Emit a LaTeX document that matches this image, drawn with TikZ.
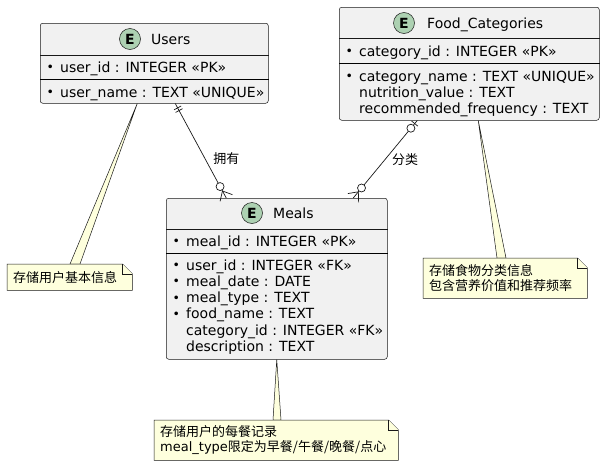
\documentclass[tikz,border=0pt]{standalone}
\usepackage{fontspec}
\setmainfont{DejaVu Sans}
\newfontfamily\cjk{Noto Sans CJK SC}
\usepackage{tikz}
\usetikzlibrary{calc,backgrounds}
\definecolor{entityfill}{HTML}{F1F1F1}
\definecolor{entityline}{HTML}{181818}
\definecolor{badgefill}{HTML}{ADD1B2}
\definecolor{notefill}{HTML}{FEFFDD}

\newcommand{\keydot}{\makebox[14pt][l]{\hspace*{0.5pt}\raisebox{0.5pt}{\fontsize{12.5}{12.5}\selectfont •}}}
\newcommand{\nokey}{\hspace*{14pt}}

\tikzset{
	entity/.style={draw=entityline, fill=entityfill, line width=0.5pt, rounded corners=2.5pt, inner sep=0, anchor=north west},
	sepline/.style={entityline, line width=0.5pt},
	keyline/.style={black, line width=1pt},
	badge/.style={circle, draw=entityline, line width=0.5pt, fill=badgefill, minimum size=21pt, inner sep=0, font=\fontsize{14}{14}\selectfont\bfseries},
	title/.style={anchor=base west, inner sep=0, font=\fontsize{14}{16}\selectfont},
	attr/.style={anchor=base west, inner sep=0, font=\fontsize{14}{16.3}\selectfont},
	rel/.style={draw=entityline, line width=0.7pt},
	rellabel/.style={inner sep=0, font=\cjk\fontsize{13}{15}\selectfont},
	notebox/.style={anchor=north west, inner xsep=6pt, inner ysep=0, align=left, font=\cjk\fontsize{13}{15.5}\selectfont},
	noteline/.style={draw=entityline, fill=notefill, line width=0.5pt},
}

\begin{document}
\begin{tikzpicture}[x=1pt, y=-1pt]
	\useasboundingbox (0,0) rectangle (605,466);

	% ENTITY: USERS
	\node[entity, minimum width=228pt, minimum height=80pt] (users) at (40,23) {};
	\draw[sepline] (users.west |- 0,55) -- (users.east |- 0,55);
	\draw[keyline] (users.west |- 0,79) -- (users.east |- 0,79);
	\node[badge] (users-badge) at (130,39) {E};
	\node[title] (users-title) at (151,44) {Users};
	\node[attr] (users-pk) at (46,72) {\keydot user\_id : INTEGER «PK»};
	\node[attr] (users-name) at (46,97) {\keydot user\_name : TEXT «UNIQUE»};

	% ENTITY: FOOD_CATEGORIES
	\node[entity, minimum width=260pt, minimum height=113pt] (food) at (339,7) {};
	\draw[sepline] (food.west |- 0,38) -- (food.east |- 0,38);
	\draw[keyline] (food.west |- 0,63) -- (food.east |- 0,63);
	\node[badge] (food-badge) at (404,23) {E};
	\node[title] (food-title) at (427,28) {Food\_Categories};
	\node[attr] (food-pk) at (345,56) {\keydot category\_id : INTEGER «PK»};
	\foreach \row [count=\i] in {{\keydot category\_name : TEXT «UNIQUE»}, {\nokey nutrition\_value : TEXT}, {\nokey recommended\_frequency : TEXT}}
		\node[attr] (food-row\i) at (345, 64.7+16.3*\i) {\row};

	% ENTITY: MEALS
	\node[entity, minimum width=221pt, minimum height=161pt] (meals) at (166,198) {};
	\draw[sepline] (meals.west |- 0,229) -- (meals.east |- 0,229);
	\draw[keyline] (meals.west |- 0,253) -- (meals.east |- 0,253);
	\node[badge] (meals-badge) at (252,213) {E};
	\node[title] (meals-title) at (273,218) {Meals};
	\node[attr] (meals-pk) at (172,246) {\keydot meal\_id : INTEGER «PK»};
	\foreach \row [count=\i] in {{\keydot user\_id : INTEGER «FK»}, {\keydot meal\_date : DATE}, {\keydot meal\_type : TEXT}, {\keydot food\_name : TEXT}, {\nokey category\_id : INTEGER «FK»}, {\nokey description : TEXT}}
		\node[attr] (meals-row\i) at (172, 253.7+16.3*\i) {\row};

	% RELATION: USERS ||--o{ MEALS
	\coordinate (own-a) at ([xshift=21pt]users.south);
	\coordinate (own-b) at ([xshift=-50.5pt]meals.north);
	\draw[rel] (own-a) -- (own-b) node[rellabel, pos=0.585, anchor=west, xshift=8pt] (own-label) {拥有};
	\coordinate (own-bar1) at ($(own-a)!5pt!(own-b)$);
	\coordinate (own-bar2) at ($(own-a)!8pt!(own-b)$);
	\draw[rel] ($(own-bar1)!4pt!90:(own-b)$) -- ($(own-bar1)!4pt!-90:(own-b)$);
	\draw[rel] ($(own-bar2)!4pt!90:(own-b)$) -- ($(own-bar2)!4pt!-90:(own-b)$);
	\coordinate (own-apex) at ($(own-b)!8pt!(own-a)$);
	\draw[rel] ($(own-b)!7pt!90:(own-a)$) -- (own-apex) -- ($(own-b)!7pt!-90:(own-a)$);
	\draw[rel, fill=white] ($(own-b)!13pt!(own-a)$) circle (4pt);

	% RELATION: FOOD_CATEGORIES |o--o{ MEALS
	\coordinate (cls-a) at ([xshift=-52pt]food.south);
	\coordinate (cls-b) at ([xshift=76.5pt]meals.north);
	\draw[rel] (cls-a) -- (cls-b) node[rellabel, pos=0.506, anchor=west, xshift=7pt] (cls-label) {分类};
	\coordinate (cls-bar) at ($(cls-a)!4pt!(cls-b)$);
	\draw[rel] ($(cls-bar)!4pt!90:(cls-b)$) -- ($(cls-bar)!4pt!-90:(cls-b)$);
	\draw[rel, fill=white] ($(cls-a)!10pt!(cls-b)$) circle (4pt);
	\coordinate (cls-apex) at ($(cls-b)!8pt!(cls-a)$);
	\draw[rel] ($(cls-b)!7pt!90:(cls-a)$) -- (cls-apex) -- ($(cls-b)!7pt!-90:(cls-a)$);
	\draw[rel, fill=white] ($(cls-b)!13pt!(cls-a)$) circle (4pt);

	% NOTES
	\node[notebox, text width=113pt, minimum height=26pt] (users-note) at (7,264) {存储用户基本信息};
	\node[notebox, text width=152pt, minimum height=40pt] (food-note) at (423,258) {存储食物分类信息\\包含营养价值和推荐频率};
	\node[notebox, text width=232pt, minimum height=40pt] (meals-note) at (154,420) {存储用户的每餐记录\\{\rmfamily meal\_type}限定为早餐/午餐/晚餐/点心};

	\begin{scope}[on background layer]
		% note tails
		\draw[noteline] ([xshift=-17pt]users.south) -- ([xshift=63pt]users-note.north west) -- ([xshift=73pt]users-note.north west) -- cycle;
		\draw[noteline] ([xshift=9pt]food.south) -- ([xshift=74pt]food-note.north west) -- ([xshift=83pt]food-note.north west) -- cycle;
		\draw[noteline] (meals.south) -- ([xshift=119pt]meals-note.north west) -- ([xshift=127pt]meals-note.north west) -- cycle;
		% note bodies with folded corner
		\foreach \n in {users-note, food-note, meals-note} {
			\draw[noteline] (\n.north west) -- ([xshift=-10pt]\n.north east) -- ([yshift=-10pt]\n.north east) -- (\n.south east) -- (\n.south west) -- cycle;
			\draw[noteline] ([xshift=-10pt]\n.north east) -- ([xshift=-10pt, yshift=-10pt]\n.north east) -- ([yshift=-10pt]\n.north east);
		}
	\end{scope}
\end{tikzpicture}
\end{document}
